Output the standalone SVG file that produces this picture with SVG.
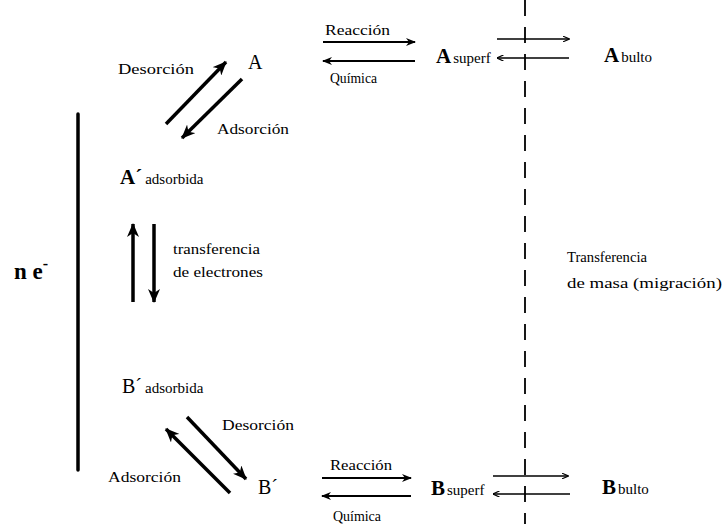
<svg xmlns="http://www.w3.org/2000/svg" width="725" height="524" viewBox="0 0 725 524">
<style>
text{font-family:"Liberation Serif","Times New Roman",serif;fill:#000}
.lbl{font-size:15px}
.big{font-size:20px}
.bigb{font-size:21px;font-weight:bold}
.sm{font-size:15px}
.thick{stroke:#000;stroke-width:3.5;fill:none}
.med{stroke:#000;stroke-width:2.2;fill:none}
.thin{stroke:#000;stroke-width:1.6;fill:none}
</style>
<defs>
<marker id="hBig" viewBox="0 0 14 12" markerWidth="14" markerHeight="12" refX="13" refY="6" orient="auto" markerUnits="userSpaceOnUse"><path d="M0,0 L14,6 L0,12 L4,6 z" fill="#000"/></marker>
<marker id="hMed" viewBox="0 0 10 8" markerWidth="10" markerHeight="8" refX="9" refY="4" orient="auto" markerUnits="userSpaceOnUse"><path d="M0,0 L10,4 L0,8 L3,4 z" fill="#000"/></marker>
<marker id="hSm" viewBox="0 0 7 6" markerWidth="7" markerHeight="6" refX="6.5" refY="3" orient="auto" markerUnits="userSpaceOnUse"><path d="M0,0 L7,3 L0,6" fill="none" stroke="#000" stroke-width="1.2"/></marker>
</defs>
<rect width="725" height="524" fill="#fff"/>

<g id="connectors">
  <line x1="525" y1="0" x2="525" y2="524" stroke="#000" stroke-width="1.8" stroke-dasharray="16 11"/>
  <line class="thick" x1="78" y1="114" x2="78" y2="470" stroke-linecap="round"/>
  <line class="thick" x1="166" y1="124" x2="226" y2="62" marker-end="url(#hBig)"/>
  <line class="thick" x1="242" y1="79" x2="182" y2="138" marker-end="url(#hBig)"/>
  <line class="thick" x1="133" y1="302" x2="133" y2="224" marker-end="url(#hBig)"/>
  <line class="thick" x1="154" y1="224" x2="154" y2="302" marker-end="url(#hBig)"/>
  <line class="thick" x1="187" y1="417" x2="246" y2="479" marker-end="url(#hBig)"/>
  <line class="thick" x1="230" y1="493" x2="166" y2="429" marker-end="url(#hBig)"/>
  <line class="med" x1="323" y1="42" x2="415" y2="42" marker-end="url(#hMed)"/>
  <line class="med" x1="415" y1="61" x2="323" y2="61" marker-end="url(#hMed)"/>
  <line class="med" x1="322" y1="478" x2="411" y2="478" marker-end="url(#hMed)"/>
  <line class="med" x1="411" y1="496" x2="322" y2="496" marker-end="url(#hMed)"/>
  <line class="thin" x1="497" y1="39" x2="569" y2="39" marker-end="url(#hSm)"/>
  <line class="thin" x1="569" y1="58" x2="497" y2="58" marker-end="url(#hSm)"/>
  <line class="thin" x1="493" y1="476" x2="568" y2="476" marker-end="url(#hSm)"/>
  <line class="thin" x1="570" y1="494" x2="493" y2="494" marker-end="url(#hSm)"/>
</g>

<g id="labels">
  <text class="lbl" x="118" y="74" textLength="76" lengthAdjust="spacingAndGlyphs">Desorción</text>
  <text class="lbl" x="217" y="134" textLength="72" lengthAdjust="spacingAndGlyphs">Adsorción</text>
  <text class="lbl" x="325" y="35" textLength="65" lengthAdjust="spacingAndGlyphs">Reacción</text>
  <text class="lbl" x="330" y="83" textLength="47" lengthAdjust="spacingAndGlyphs">Química</text>
  <text class="lbl" x="173" y="254" textLength="87" lengthAdjust="spacingAndGlyphs">transferencia</text>
  <text class="lbl" x="173" y="277" textLength="90" lengthAdjust="spacingAndGlyphs">de electrones</text>
  <text class="lbl" x="567" y="262" textLength="80" lengthAdjust="spacingAndGlyphs">Transferencia</text>
  <text class="lbl" x="567" y="288" textLength="155" lengthAdjust="spacingAndGlyphs">de masa (migración)</text>
  <text class="lbl" x="222" y="430" textLength="72" lengthAdjust="spacingAndGlyphs">Desorción</text>
  <text class="lbl" x="108" y="482" textLength="73" lengthAdjust="spacingAndGlyphs">Adsorción</text>
  <text class="lbl" x="330" y="470" textLength="62" lengthAdjust="spacingAndGlyphs">Reacción</text>
  <text class="lbl" x="333" y="521" textLength="48" lengthAdjust="spacingAndGlyphs">Química</text>
  <text x="14" y="279" style="font-size:23px;font-weight:bold">n e<tspan dy="-10" style="font-size:16px">-</tspan></text>
</g>

<g id="A"><text class="big" x="248" y="69">A</text></g>
<g id="A_adsorbida"><text x="120" y="184"><tspan class="bigb">A´</tspan><tspan class="sm" dx="3">adsorbida</tspan></text></g>
<g id="A_superf"><text x="436" y="63"><tspan class="bigb">A</tspan><tspan class="sm" dx="2">superf</tspan></text></g>
<g id="A_bulto"><text x="604" y="62"><tspan class="bigb">A</tspan><tspan class="sm" dx="2">bulto</tspan></text></g>
<g id="B_adsorbida"><text x="122" y="393"><tspan class="big">B´</tspan><tspan class="sm" dx="3">adsorbida</tspan></text></g>
<g id="B"><text class="big" x="258" y="494">B´</text></g>
<g id="B_superf"><text x="431" y="495"><tspan class="bigb">B</tspan><tspan class="sm" dx="2">superf</tspan></text></g>
<g id="B_bulto"><text x="602" y="494"><tspan class="bigb">B</tspan><tspan class="sm" dx="2">bulto</tspan></text></g>
</svg>
